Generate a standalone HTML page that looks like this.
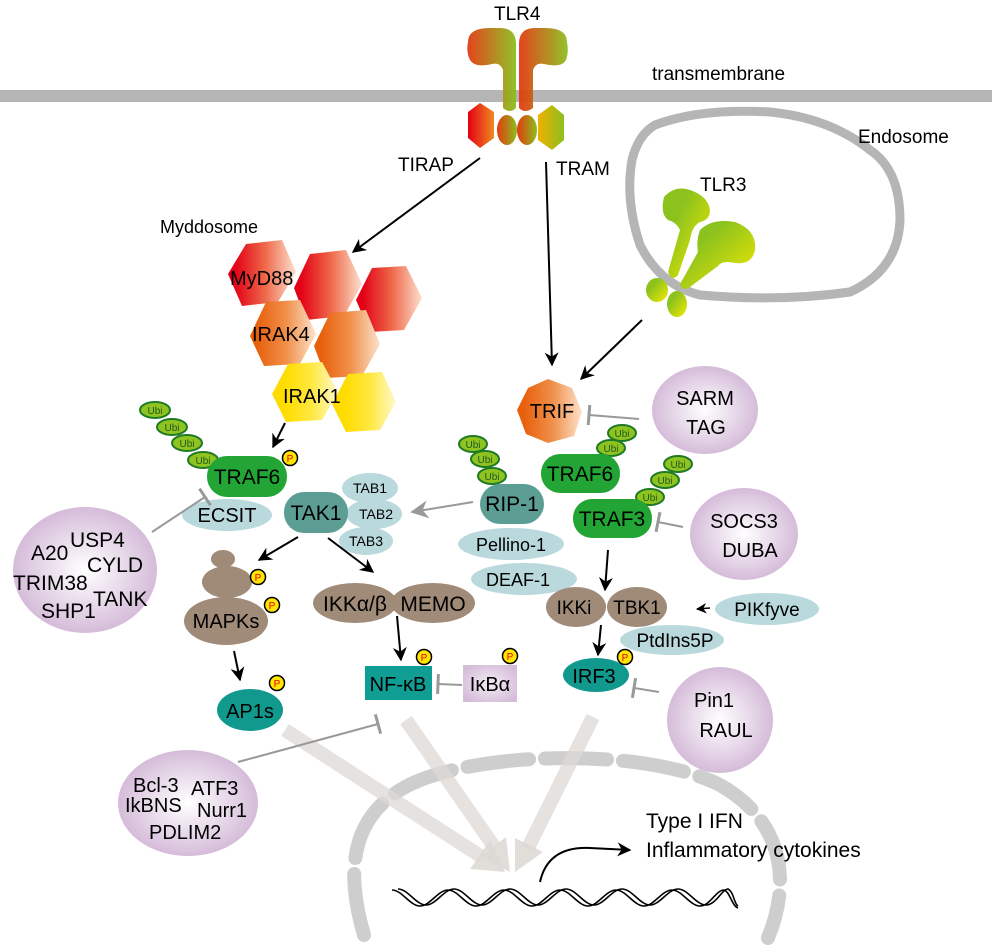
<!DOCTYPE html>
<html><head><meta charset="utf-8"><style>
html,body{margin:0;padding:0;background:#fff;}
svg{display:block;font-family:"Liberation Sans",Arial,sans-serif;}
</style></head><body>
<svg width="992" height="952" viewBox="0 0 992 952" xmlns="http://www.w3.org/2000/svg">
<defs>
<marker id="ah" viewBox="0 0 10 10" refX="9" refY="5" markerWidth="7" markerHeight="7" orient="auto"><path d="M0,0 L10,5 L0,10 L3,5z" fill="#000"/></marker>
<marker id="ahg" viewBox="0 0 10 10" refX="9" refY="5" markerWidth="9" markerHeight="9" orient="auto"><path d="M0,0 L10,5 L0,10 L3,5z" fill="#999"/></marker>
<marker id="bar" viewBox="0 0 4 10" refX="2" refY="5" markerWidth="4" markerHeight="12" orient="auto"><path d="M2,0 L2,10" stroke="#999" stroke-width="1.5"/></marker>
<linearGradient id="gRed" x1="0" x2="1"><stop offset="0.1" stop-color="#e30016"/><stop offset="0.55" stop-color="#ee6a4a"/><stop offset="1" stop-color="#fde0d0"/></linearGradient>
<linearGradient id="gOr" x1="0" x2="1"><stop offset="0.1" stop-color="#e8600c"/><stop offset="0.55" stop-color="#f0904a"/><stop offset="1" stop-color="#fde2cc"/></linearGradient>
<linearGradient id="gYel" x1="0" x2="1"><stop offset="0.2" stop-color="#ffdc00"/><stop offset="0.6" stop-color="#ffe840"/><stop offset="1" stop-color="#fff8cc"/></linearGradient>
<linearGradient id="gTLR" x1="0" x2="1"><stop offset="0" stop-color="#e33a10"/><stop offset="1" stop-color="#8cbf1e"/></linearGradient>
<linearGradient id="gTLR3" x1="0" x2="1" y1="0" y2="1"><stop offset="0.3" stop-color="#8cc21e"/><stop offset="1" stop-color="#f5ea00"/></linearGradient>
<linearGradient id="gHexL" x1="0" x2="1"><stop offset="0" stop-color="#e30016"/><stop offset="1" stop-color="#f08a20"/></linearGradient>
<linearGradient id="gHexR" x1="0" x2="1"><stop offset="0" stop-color="#f0b000"/><stop offset="1" stop-color="#8cbf1e"/></linearGradient>
<radialGradient id="gPur" cx="0.5" cy="0.5" r="0.5"><stop offset="0" stop-color="#ffffff"/><stop offset="1" stop-color="#d5bcd9"/></radialGradient>
<radialGradient id="gPurS" cx="0.5" cy="0.5" r="0.6"><stop offset="0" stop-color="#f3ebf4"/><stop offset="1" stop-color="#d5bcd9"/></radialGradient>
</defs>

<!-- membrane -->
<rect x="0" y="90" width="992" height="12" fill="#b5b5b5"/>
<text x="652" y="80" font-size="19">transmembrane</text>

<!-- TLR4 -->
<text x="494" y="20" font-size="19">TLR4</text>
<path d="M468,42 Q468,28 490,28 L500,28 Q516,28 516,44 L516,108 Q510,114 503,108 L503,70 Q500,62 492,64 Q475,68 470,60 Q466,52 468,42z" fill="url(#gTLR)" opacity="0.95"/>
<path d="M567,42 Q567,28 545,28 L535,28 Q519,28 519,44 L519,108 Q525,114 533,108 L533,70 Q536,62 544,64 Q562,68 566,60 Q569,52 567,42z" fill="url(#gTLR)" opacity="0.95"/>
<polygon points="480,103 494,112 494,138 480,148 468,138 468,112" fill="url(#gHexL)"/>
<ellipse cx="507" cy="130" rx="10" ry="15" fill="url(#gTLR)"/>
<ellipse cx="527" cy="130" rx="10" ry="15" fill="url(#gTLR)"/>
<polygon points="552,105 564,115 564,140 552,150 538,140 538,115" fill="url(#gHexR)"/>

<text x="398" y="171" font-size="19">TIRAP</text>
<text x="556" y="175" font-size="19">TRAM</text>
<line x1="480" y1="158" x2="353" y2="252" stroke="#000" stroke-width="2" marker-end="url(#ah)"/>
<line x1="546" y1="162" x2="552" y2="365" stroke="#000" stroke-width="2" marker-end="url(#ah)"/>

<!-- endosome -->
<path d="M655,125 Q700,108 770,112 Q830,118 870,150 Q900,170 900,220 Q898,270 850,292 Q780,302 700,295 Q660,285 640,245 Q625,200 632,160 Q638,135 655,125z" fill="none" stroke="#b5b5b5" stroke-width="9"/>
<text x="858" y="143" font-size="19">Endosome</text>
<text x="700" y="191" font-size="19">TLR3</text>
<path d="M664,197 Q675,185 690,190 Q708,196 710,210 Q710,220 700,222 Q692,226 690,240 L678,275 Q672,282 668,272 L680,230 Q676,222 668,220 Q660,214 664,197z" fill="url(#gTLR3)"/>
<path d="M700,230 Q712,218 735,222 Q757,230 755,250 Q752,265 735,263 Q722,260 718,266 L690,287 Q682,292 680,284 L698,252 Q696,240 700,230z" fill="url(#gTLR3)"/>
<ellipse cx="657" cy="290" rx="11" ry="12" fill="url(#gTLR3)"/>
<ellipse cx="677" cy="304" rx="10" ry="13" fill="url(#gTLR3)"/>
<line x1="642" y1="320" x2="581" y2="379" stroke="#000" stroke-width="2" marker-end="url(#ah)"/>

<!-- Myddosome -->
<text x="160" y="233" font-size="18">Myddosome</text>
<g>
<polygon points="246,244 282,240 296,272 278,302 242,306 228,274" fill="url(#gRed)"/>
<polygon points="310,254 346,250 362,284 344,316 306,320 294,288" fill="url(#gRed)"/>
<polygon points="372,268 406,266 422,298 404,330 370,332 356,300" fill="url(#gRed)"/>
<polygon points="266,302 300,300 316,334 300,364 264,366 250,336" fill="url(#gOr)"/>
<polygon points="330,313 366,310 380,344 362,376 326,378 314,346" fill="url(#gOr)"/>
<polygon points="288,364 322,362 338,392 322,420 286,422 272,394" fill="url(#gYel)"/>
<polygon points="348,374 382,372 396,402 380,430 346,432 332,404" fill="url(#gYel)"/>
</g>
<text x="230" y="285" font-size="20">MyD88</text>
<text x="252" y="341" font-size="20">IRAK4</text>
<text x="283" y="403" font-size="20">IRAK1</text>
<line x1="285" y1="423" x2="273" y2="447" stroke="#000" stroke-width="2" marker-end="url(#ah)"/>

<!-- Ubi left -->
<g fill="#8fc31f" stroke="#1f7a25" stroke-width="2">
<ellipse cx="155" cy="410" rx="15" ry="8"/><ellipse cx="172" cy="427" rx="15" ry="8"/><ellipse cx="187" cy="443" rx="15" ry="8"/><ellipse cx="203" cy="460" rx="15" ry="8"/>
</g>
<g font-size="10" fill="#1f5a1f" text-anchor="middle"><text x="155" y="414">Ubi</text><text x="172" y="431">Ubi</text><text x="187" y="447">Ubi</text><text x="203" y="464">Ubi</text></g>

<rect x="207" y="456" width="80" height="41" rx="20" fill="#22a535"/>
<text x="247" y="484" font-size="21" text-anchor="middle">TRAF6</text>
<ellipse cx="227" cy="515" rx="45" ry="16" fill="#b9d9dd"/>
<text x="227" y="522" font-size="20" text-anchor="middle">ECSIT</text>

<!-- left purple -->
<ellipse cx="85" cy="570" rx="72" ry="63" fill="url(#gPur)"/>
<g font-size="21"><text x="70" y="547">USP4</text><text x="31" y="560">A20</text><text x="87" y="572">CYLD</text><text x="13" y="590">TRIM38</text><text x="93" y="606">TANK</text><text x="41" y="618">SHP1</text></g>
<line x1="152" y1="532" x2="205" y2="497" stroke="#999" stroke-width="2" marker-end="url(#bar)"/>

<!-- TAK1 -->
<ellipse cx="370" cy="488" rx="28" ry="15" fill="#b9d9dd"/>
<ellipse cx="374" cy="514" rx="28" ry="15" fill="#b9d9dd"/>
<ellipse cx="366" cy="541" rx="27" ry="14" fill="#b9d9dd"/>
<g font-size="14" text-anchor="middle"><text x="370" y="493">TAB1</text><text x="376" y="519">TAB2</text><text x="366" y="546">TAB3</text></g>
<rect x="284" y="492" width="64" height="41" rx="20" fill="#5d9e94"/>
<text x="316" y="520" font-size="21" text-anchor="middle">TAK1</text>
<line x1="473" y1="502" x2="412" y2="512" stroke="#999" stroke-width="2" marker-end="url(#ahg)"/>
<line x1="298" y1="537" x2="259" y2="560" stroke="#000" stroke-width="2" marker-end="url(#ah)"/>
<line x1="328" y1="538" x2="373" y2="572" stroke="#000" stroke-width="2" marker-end="url(#ah)"/>

<!-- MAPKs -->
<ellipse cx="223" cy="559" rx="12" ry="9" fill="#a08a78"/>
<ellipse cx="227" cy="582" rx="25" ry="16" fill="#a08a78"/>
<ellipse cx="226" cy="621" rx="42" ry="24" fill="#a08a78"/>
<text x="226" y="628" font-size="20" text-anchor="middle">MAPKs</text>
<line x1="234" y1="651" x2="240" y2="680" stroke="#000" stroke-width="2" marker-end="url(#ah)"/>
<ellipse cx="250" cy="710" rx="33" ry="21" fill="#11998e"/>
<text x="250" y="718" font-size="20" text-anchor="middle">AP1s</text>

<!-- IKK -->
<ellipse cx="355" cy="603" rx="42" ry="20" fill="#a08a78"/>
<ellipse cx="433" cy="603" rx="42" ry="20" fill="#a08a78"/>
<text x="355" y="611" font-size="21" text-anchor="middle">IKKα/β</text>
<text x="433" y="611" font-size="21" text-anchor="middle">MEMO</text>
<line x1="397" y1="616" x2="401" y2="660" stroke="#000" stroke-width="2" marker-end="url(#ah)"/>
<rect x="365" y="666" width="67" height="34" fill="#0f9d94"/>
<text x="398" y="691" font-size="20" text-anchor="middle">NF-κB</text>
<rect x="463" y="665" width="54" height="37" fill="url(#gPurS)"/>
<text x="490" y="691" font-size="20" text-anchor="middle">IκBα</text>
<line x1="462" y1="685" x2="438" y2="684" stroke="#999" stroke-width="2" marker-end="url(#bar)"/>

<!-- TRIF -->
<polygon points="548,379 572,388 582,412 574,436 548,443 526,434 517,410 528,388" fill="url(#gOr)"/>
<text x="552" y="418" font-size="20" text-anchor="middle">TRIF</text>
<ellipse cx="705" cy="410" rx="53" ry="44" fill="url(#gPur)"/>
<text x="705" y="405" font-size="20" text-anchor="middle">SARM</text>
<text x="706" y="434" font-size="20" text-anchor="middle">TAG</text>
<line x1="639" y1="419" x2="589" y2="415" stroke="#999" stroke-width="2" marker-end="url(#bar)"/>

<!-- Ubi right -->
<g fill="#8fc31f" stroke="#1f7a25" stroke-width="2">
<ellipse cx="622" cy="433" rx="14" ry="8"/><ellipse cx="611" cy="448" rx="14" ry="8"/>
<ellipse cx="473" cy="444" rx="14" ry="8"/><ellipse cx="485" cy="459" rx="14" ry="8"/><ellipse cx="492" cy="476" rx="14" ry="8"/>
<ellipse cx="678" cy="464" rx="14" ry="8"/><ellipse cx="665" cy="480" rx="14" ry="8"/><ellipse cx="650" cy="497" rx="14" ry="8"/>
</g>
<g font-size="10" fill="#1f5a1f" text-anchor="middle">
<text x="622" y="437">Ubi</text><text x="611" y="452">Ubi</text>
<text x="473" y="448">Ubi</text><text x="485" y="463">Ubi</text><text x="492" y="480">Ubi</text>
<text x="678" y="468">Ubi</text><text x="665" y="484">Ubi</text><text x="650" y="501">Ubi</text>
</g>
<rect x="541" y="454" width="79" height="39" rx="19" fill="#22a535"/>
<text x="580" y="481" font-size="21" text-anchor="middle">TRAF6</text>
<rect x="480" y="484" width="64" height="40" rx="20" fill="#5d9e94"/>
<text x="512" y="511" font-size="21" text-anchor="middle">RIP-1</text>
<ellipse cx="511" cy="544" rx="53" ry="16" fill="#b9d9dd"/>
<text x="511" y="551" font-size="18" text-anchor="middle">Pellino-1</text>
<ellipse cx="524" cy="579" rx="53" ry="16" fill="#b9d9dd"/>
<text x="518" y="586" font-size="18" text-anchor="middle">DEAF-1</text>
<rect x="573" y="499" width="79" height="39" rx="19" fill="#22a535"/>
<text x="612" y="526" font-size="21" text-anchor="middle">TRAF3</text>
<ellipse cx="744" cy="534" rx="54" ry="46" fill="url(#gPur)"/>
<text x="744" y="528" font-size="20" text-anchor="middle">SOCS3</text>
<text x="750" y="557" font-size="20" text-anchor="middle">DUBA</text>
<line x1="683" y1="527" x2="658" y2="522" stroke="#999" stroke-width="2" marker-end="url(#bar)"/>
<line x1="608" y1="550" x2="605" y2="590" stroke="#000" stroke-width="2" marker-end="url(#ah)"/>

<ellipse cx="576" cy="607" rx="30" ry="20" fill="#a08a78"/>
<ellipse cx="637" cy="607" rx="30" ry="20" fill="#a08a78"/>
<text x="574" y="614" font-size="19" text-anchor="middle">IKKi</text>
<text x="637" y="614" font-size="19" text-anchor="middle">TBK1</text>
<line x1="601" y1="625" x2="598" y2="655" stroke="#000" stroke-width="2" marker-end="url(#ah)"/>
<ellipse cx="767" cy="609" rx="52" ry="16" fill="#b9d9dd"/>
<text x="767" y="616" font-size="19" text-anchor="middle">PIKfyve</text>
<path d="M710,608 L697,609" stroke="#000" stroke-width="1.5" fill="none" marker-end="url(#ah)"/>
<ellipse cx="672" cy="640" rx="52" ry="15" fill="#b9d9dd"/>
<text x="675" y="647" font-size="19" text-anchor="middle">PtdIns5P</text>
<ellipse cx="596" cy="675" rx="33" ry="17" fill="#11998e"/>
<text x="594" y="683" font-size="20" text-anchor="middle">IRF3</text>
<ellipse cx="720" cy="720" rx="53" ry="53" fill="url(#gPur)"/>
<text x="714" y="707" font-size="20" text-anchor="middle">Pin1</text>
<text x="726" y="737" font-size="20" text-anchor="middle">RAUL</text>
<line x1="659" y1="692" x2="634" y2="688" stroke="#999" stroke-width="2" marker-end="url(#bar)"/>

<!-- P circles -->
<g fill="#ffe600" stroke="#000" stroke-width="1.5">
<circle cx="290" cy="458" r="7.5"/><circle cx="258" cy="577" r="7.5"/><circle cx="272" cy="605" r="7.5"/><circle cx="277" cy="683" r="7.5"/><circle cx="424" cy="657" r="7.5"/><circle cx="510" cy="656" r="7.5"/><circle cx="625" cy="657" r="7.5"/>
</g>
<g font-size="10" fill="#e30016" text-anchor="middle">
<text x="290" y="462">P</text><text x="258" y="581">P</text><text x="272" y="609">P</text><text x="277" y="687">P</text><text x="424" y="661">P</text><text x="510" y="660">P</text><text x="625" y="661">P</text>
</g>

<!-- nucleus -->
<path d="M364,935 C345,870 352,820 400,790 C460,752 640,745 720,785 C782,820 792,880 768,938" fill="none" stroke="#bdbdbd" stroke-opacity="0.75" stroke-width="14" stroke-linecap="round" stroke-dasharray="62 16"/>
<!-- big arrows -->
<g stroke="#dcd8d4" stroke-opacity="0.75" stroke-width="14" fill="none">
<line x1="285" y1="730" x2="482" y2="857"/>
<line x1="406" y1="720" x2="495" y2="848"/>
<line x1="593" y1="717" x2="528" y2="848"/>
</g>
<g fill="#dcd8d4" fill-opacity="0.85">
<polygon points="505,872 470,869 490,840"/>
<polygon points="510,872 480,857 506,837"/>
<polygon points="515,872 515,838 543,852"/>
</g>

<!-- Bcl-3 -->
<ellipse cx="188" cy="803" rx="70" ry="53" fill="url(#gPur)"/>
<g font-size="20"><text x="133" y="792">Bcl-3</text><text x="191" y="795">ATF3</text><text x="125" y="812">IkBNS</text><text x="197" y="817">Nurr1</text><text x="149" y="839">PDLIM2</text></g>
<line x1="238" y1="762" x2="378" y2="724" stroke="#999" stroke-width="2" marker-end="url(#bar)"/>

<!-- DNA -->
<path d="M392,890 C402,890 410,906 420,906 C430,906 438,890 448,890 C458,890 466,906 476,906 C486,906 494,890 504,890 C514,890 522,906 532,906 C542,906 550,890 560,890 C570,890 578,906 588,906 C598,906 606,890 616,890 C626,890 634,906 644,906 C654,906 662,890 672,890 C682,890 690,906 700,906 C710,906 716,890 724,890 C730,892 732,906 738,908" fill="none" stroke="#000" stroke-width="1.6"/>
<path d="M398,889 C408,889 416,905 426,905 C436,905 444,889 454,889 C464,889 472,905 482,905 C492,905 500,889 510,889 C520,889 528,905 538,905 C548,905 556,889 566,889 C576,889 584,905 594,905 C604,905 612,889 622,889 C632,889 640,905 650,905 C660,905 668,889 678,889 C688,889 696,905 706,905 C716,905 722,889 728,889 C734,892 734,904 738,906" fill="none" stroke="#000" stroke-width="1.6"/>
<path d="M540,882 Q548,846 590,848 L630,850" fill="none" stroke="#000" stroke-width="2" marker-end="url(#ah)"/>
<text x="646" y="828" font-size="21">Type I IFN</text>
<text x="646" y="857" font-size="21">Inflammatory cytokines</text>
</svg>
</body></html>
